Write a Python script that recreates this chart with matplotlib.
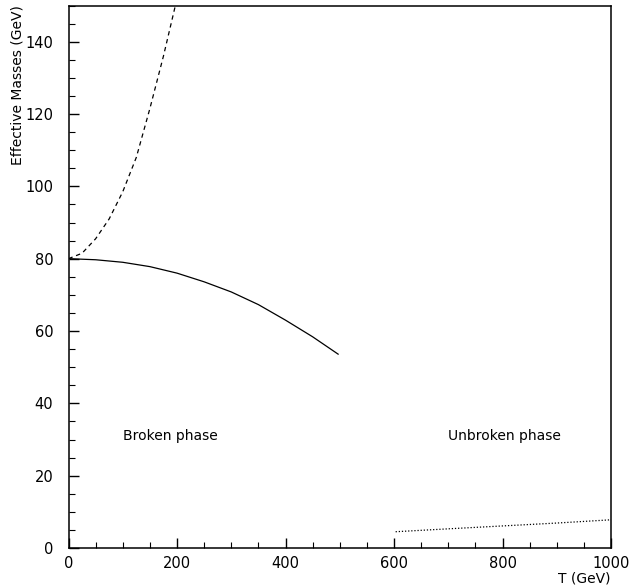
import matplotlib.pyplot as plt
from matplotlib.ticker import MultipleLocator

# broken phase, solid curve
t_solid = [0, 50, 100, 150, 200, 250, 300, 350, 400, 450, 497]
m_solid = [80.0, 79.7, 79.0, 77.8, 76.0, 73.6, 70.8, 67.3, 63.0, 58.4, 53.6]

# broken phase, dashed curve
t_dash = [0, 25, 50, 75, 100, 125, 150, 175, 197]
m_dash = [80.0, 81.5, 85.5, 91.0, 98.5, 108.0, 121.5, 136.0, 150.0]

# unbroken phase, dotted line
t_dot = [603, 700, 800, 900, 1000]
m_dot = [4.5, 5.3, 6.1, 6.9, 7.8]

plt.rcParams['font.family'] = ['DejaVu Sans']

fig = plt.figure(figsize=(6.31, 5.88), dpi=100)
ax = fig.add_axes([68.5 / 631, 40 / 588, 542.5 / 631, 542.5 / 588])

ax.plot(t_solid, m_solid, '-', color='black', lw=0.9)
ax.plot(t_dash, m_dash, color='black', lw=0.9, dashes=(3.5, 3))
ax.plot(t_dot, m_dot, color='black', lw=0.9, dashes=(1, 1.5))

ax.text(100, 31, "Broken phase", fontsize=10, va='center')
ax.text(700, 31, "Unbroken phase", fontsize=10, va='center')

ax.set_xlim(0, 1000)
ax.set_ylim(0, 150)
ax.xaxis.set_major_locator(MultipleLocator(200))
ax.xaxis.set_minor_locator(MultipleLocator(50))
ax.yaxis.set_major_locator(MultipleLocator(20))
ax.yaxis.set_minor_locator(MultipleLocator(5))
ax.tick_params(which='both', direction='in', top=False, right=False, labelsize=10.5)
ax.tick_params(which='major', length=7.5, width=1)
ax.tick_params(which='minor', length=4, width=0.8)
ax.tick_params(axis='y', pad=11)
ax.tick_params(axis='x', pad=6)
for s in ax.spines.values():
    s.set_linewidth(1.1)

fig.text(18 / 631, 1 - 5 / 588, "Effective Masses (GeV)", rotation=90,
         ha='center', va='top', fontsize=10)
fig.text(610 / 631, 1 - 578 / 588, "T (GeV)", ha='right', va='center', fontsize=10)

fig.savefig("out.png", dpi=100)
